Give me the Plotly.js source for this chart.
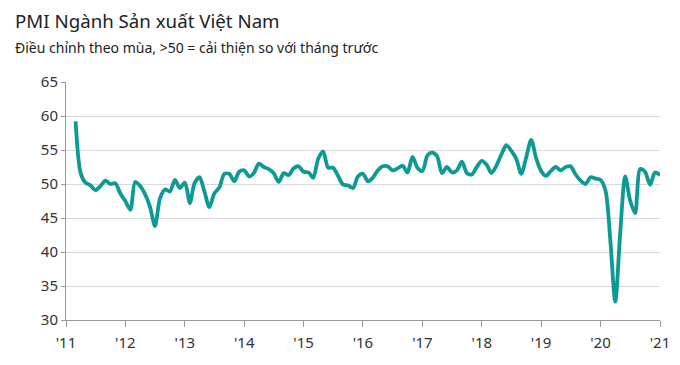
<!DOCTYPE html>
<html>
<head>
<meta charset="utf-8">
<script src="https://cdn.plot.ly/plotly-3.0.1.min.js"></script>
<style>
html,body{margin:0;padding:0;background:#fff;}
#chart{width:680px;height:365px;}
</style>
</head>
<body>
<div id="chart"></div>
<script>
// Series starts March 2011, monthly, ends January 2021
const startYear = 2011;
const startMonth = 3;
const pmi2011 = [59.2, 51.6, 50.2, 49.8, 49.1, 49.7, 50.5, 50.0, 50.1, 48.6];
const pmi2012 = [47.5, 46.2, 50.3, 49.7, 48.5, 46.6, 43.8, 47.9, 49.2, 48.9, 50.6, 49.4];
const pmi2013 = [50.2, 47.2, 50.1, 51.0, 48.9, 46.6, 48.6, 49.5, 51.5, 51.5, 50.4, 51.8];
const pmi2014 = [52.0, 51.1, 51.6, 53.0, 52.5, 52.2, 51.6, 50.3, 51.6, 51.3, 52.3, 52.6];
const pmi2015 = [51.8, 51.7, 50.9, 53.7, 54.8, 52.4, 52.4, 51.2, 49.9, 49.8, 49.4, 51.1];
const pmi2016 = [51.5, 50.4, 50.9, 52.0, 52.6, 52.6, 52.0, 52.3, 52.7, 51.7, 54.0, 52.4];
const pmi2017 = [51.9, 54.2, 54.6, 54.1, 51.6, 52.5, 51.7, 52.0, 53.3, 51.6, 51.4, 52.5];
const pmi2018 = [53.4, 52.8, 51.6, 52.7, 54.3, 55.7, 54.9, 53.7, 51.5, 53.9, 56.5, 53.8];
const pmi2019 = [51.9, 51.2, 51.9, 52.5, 52.0, 52.5, 52.6, 51.4, 50.5, 50.0, 51.0, 50.8];
const pmi2020 = [50.6, 49.0, 41.9, 32.7, 42.7, 51.1, 47.6, 45.7, 52.2, 51.8, 49.9, 51.7];
const pmi2021 = [51.3];

const tickDates = ['2011-01-01','2012-01-01','2013-01-01','2014-01-01','2015-01-01','2016-01-01','2017-01-01','2018-01-01','2019-01-01','2020-01-01','2021-01-01'];
const tickLabels = ["'11","'12","'13","'14","'15","'16","'17","'18","'19","'20","'21"];
const yTicks = [30, 35, 40, 45, 50, 55, 60, 65];

const values = [].concat(pmi2011, pmi2012, pmi2013, pmi2014, pmi2015, pmi2016, pmi2017, pmi2018, pmi2019, pmi2020, pmi2021);
const dates = values.map((v, i) => {
  const total = (startMonth - 1) + i;
  const y = startYear + Math.floor(total / 12);
  const m = (total % 12) + 1;
  return y + '-' + String(m).padStart(2, '0') + '-01';
});

const FONT = '"Noto Sans", "Open Sans", sans-serif';

const trace = {
  x: dates,
  y: values,
  type: 'scatter',
  mode: 'lines',
  line: {color: '#0d9a94', width: 3.8, shape: 'spline', smoothing: 0.8},
  hoverinfo: 'x+y'
};

const layout = {
  width: 680,
  height: 365,
  margin: {l: 66, r: 20, t: 82, b: 45},
  paper_bgcolor: '#ffffff',
  plot_bgcolor: '#ffffff',
  showlegend: false,
  font: {family: FONT, color: '#333333', size: 15},
  xaxis: {
    type: 'date',
    range: ['2011-01-01', '2021-01-01'],
    tickvals: tickDates,
    ticktext: tickLabels,
    showgrid: false,
    zeroline: false,
    showline: true,
    linecolor: '#9a9a9a',
    linewidth: 1,
    ticks: 'outside',
    ticklen: 6,
    tickcolor: '#9a9a9a',
    ticklabelstandoff: 3,
    tickfont: {family: FONT, size: 15, color: '#333333'},
    fixedrange: true
  },
  yaxis: {
    range: [30, 65],
    tickvals: yTicks,
    showgrid: true,
    gridcolor: '#d9d9d9',
    gridwidth: 1,
    zeroline: false,
    showline: true,
    linecolor: '#9a9a9a',
    linewidth: 1,
    ticks: 'outside',
    ticklen: 4,
    tickcolor: '#9a9a9a',
    tickfont: {family: FONT, size: 15, color: '#333333'},
    fixedrange: true
  },
  annotations: [
    {
      text: 'PMI Ngành Sản xuất Việt Nam',
      xref: 'paper', yref: 'paper',
      x: -0.089, y: 1.26,
      xanchor: 'left', yanchor: 'middle',
      showarrow: false,
      font: {family: FONT, size: 18.7, color: '#222222'}
    },
    {
      text: 'Điều chỉnh theo mùa, >50 = cải thiện so với tháng trước',
      xref: 'paper', yref: 'paper',
      x: -0.089, y: 1.147,
      xanchor: 'left', yanchor: 'middle',
      showarrow: false,
      font: {family: FONT, size: 14, color: '#222222'}
    }
  ]
};

Plotly.newPlot('chart', [trace], layout, {displayModeBar: false, staticPlot: true});
</script>
</body>
</html>
